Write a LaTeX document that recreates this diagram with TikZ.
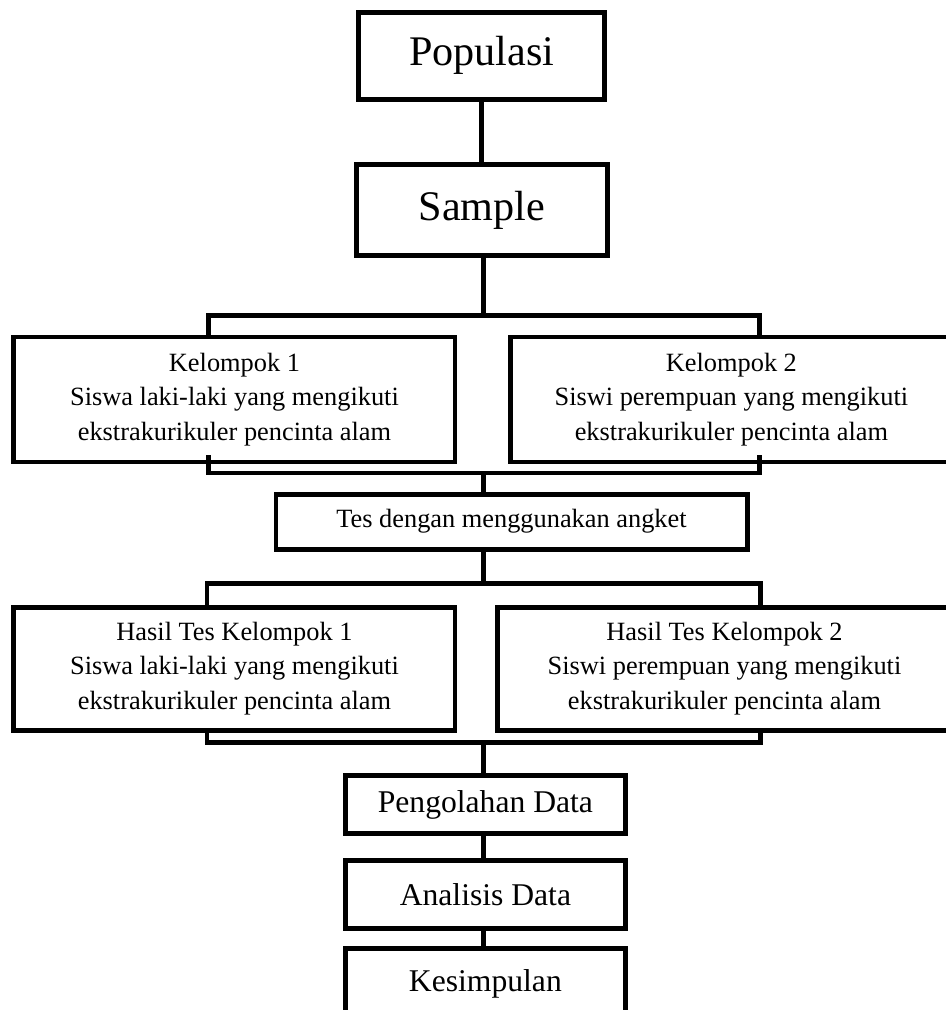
\documentclass[tikz,border=0pt]{standalone}
\usepackage{fontspec}
\setmainfont{Liberation Serif}
\usetikzlibrary{calc,positioning}

\begin{document}
\begin{tikzpicture}[node distance=1cm]
	\tikzstyle{block}=[draw=black, line width=0.083cm, text centered, inner sep=0pt]
	\tikzstyle{title}=[block, font=\fontsize{20}{24}\selectfont]
	\tikzstyle{group}=[block, align=center, font=\fontsize{12.5}{16.5}\selectfont]
	\tikzstyle{stage}=[block, font=\fontsize{15}{18}\selectfont, minimum width=4.667cm]
	\tikzstyle{link}=[draw=black, line width=0.083cm]

	\useasboundingbox (0,0) rectangle (15.75,-16.833);

	\node (pop) [title, minimum width=4.1cm, minimum height=1.442cm] at (8.03,-0.929) {Populasi};
	\node (samp) [title, minimum width=4.18cm, minimum height=1.517cm, below=1.008cm of pop] {Sample};

	\node (kel1) [group, minimum width=7.35cm, minimum height=2.083cm] at (3.908,-6.658)
		{Kelompok 1\\Siswa laki-laki yang mengikuti\\ekstrakurikuler pencinta alam};
	\node (kel2) [group, minimum width=7.35cm, minimum height=2.083cm] at (12.19,-6.658)
		{Kelompok 2\\Siswi perempuan yang mengikuti\\ekstrakurikuler pencinta alam};

	\node (tes) [group, minimum width=7.85cm, minimum height=0.917cm] at (8.525,-8.692)
		{Tes dengan menggunakan angket};

	\node (has1) [group, minimum width=7.35cm, minimum height=2.05cm] at (3.908,-11.142)
		{Hasil Tes Kelompok 1\\Siswa laki-laki yang mengikuti\\ekstrakurikuler pencinta alam};
	\node (has2) [group, minimum width=7.583cm, minimum height=2.05cm] at (12.075,-11.142)
		{Hasil Tes Kelompok 2\\Siswi perempuan yang mengikuti\\ekstrakurikuler pencinta alam};

	\node (peng) [stage, minimum height=0.963cm] at (8.09,-13.407) {Pengolahan Data};
	\node (anal) [stage, minimum height=1.133cm, below=0.375cm of peng] {Analisis Data};
	\node (kes) [stage, minimum height=1.167cm, below=0.253cm of anal] {Kesimpulan};

	% junctions of the brackets
	\coordinate (j1) at (8.05,-5.25);
	\coordinate (j2) at (8.05,-7.883);
	\coordinate (j3) at (8.05,-9.717);
	\coordinate (j4) at (8.05,-12.367);
	\coordinate (b1l) at (3.467,0);
	\coordinate (b1r) at (12.65,0);
	\coordinate (b2l) at (3.45,0);
	\coordinate (b2r) at (12.667,0);

	\draw[link] (pop) -- (samp);
	\draw[link] (samp.south -| j1) -- (j1);
	\draw[link] (kel1.north -| b1l) |- (j1) -| (kel2.north -| b1r);
	\draw[link] ($(kel1.south -| b1l)+(0,0.15)$) |- (j2) -| ($(kel2.south -| b1r)+(0,0.15)$);
	\draw[link] (j2) -- (tes.north -| j2);
	\draw[link] (tes.south -| j3) -- (j3);
	\draw[link] (has1.north -| b2l) |- (j3) -| (has2.north -| b2r);
	\draw[link] (has1.south -| b2l) |- (j4) -| (has2.south -| b2r);
	\draw[link] (j4) -- (peng.north -| j4);
	\draw[link] (peng.south -| j4) -- (anal.north -| j4);
	\draw[link] (anal.south -| j4) -- (kes.north -| j4);

\end{tikzpicture}
\end{document}
